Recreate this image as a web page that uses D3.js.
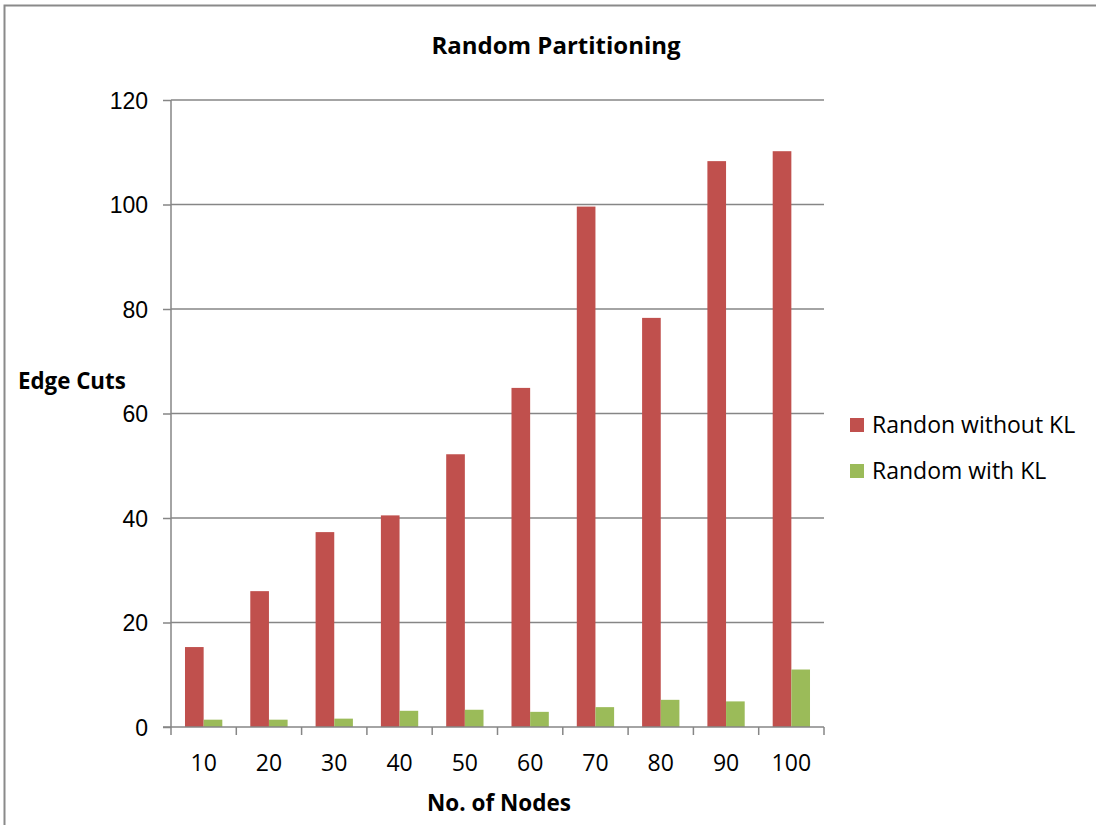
<!DOCTYPE html>
<html>
<head>
<meta charset="utf-8">
<script src="https://cdn.jsdelivr.net/npm/d3@7"></script>
<style>
  html, body { margin: 0; padding: 0; background: #fff; }
  svg { display: block; font-family: "Open Sans", "Liberation Sans", sans-serif; }
</style>
</head>
<body>
<svg id="chart" width="1096" height="825"></svg>
<script>
// Edge cuts per graph size, random partition before/after Kernighan–Lin
const nodes = ["10", "20", "30", "40", "50", "60", "70", "80", "90", "100"];
const withoutKL = [15.3, 26, 37.3, 40.5, 52.2, 64.9, 99.6, 78.3, 108.3, 110.2];
const withKL = [1.4, 1.4, 1.6, 3.1, 3.3, 2.9, 3.8, 5.2, 4.9, 11.0];
const seriesNames = ["Randon without KL", "Random with KL"];
const seriesColors = ["#C0504D", "#9BBB59"];
const yTicks = [0, 20, 40, 60, 80, 100, 120];

const svg = d3.select("#chart");
const plot = { left: 171, right: 824, top: 100, bottom: 727 };

// outer chart frame
svg.append("rect")
  .attr("x", 4.5).attr("y", 5.5)
  .attr("width", 1200).attr("height", 1000)
  .attr("fill", "none").attr("stroke", "#8a8a8a").attr("stroke-width", 2);

const x = d3.scaleBand().domain(nodes).range([plot.left, plot.right]);
const inner = d3.scaleBand().domain([0, 1])
  .range([0, x.bandwidth()]).paddingOuter(0.75).paddingInner(0);
const y = d3.scaleLinear().domain([0, 120]).range([plot.bottom, plot.top]);

// horizontal gridlines
svg.append("g")
  .selectAll("line")
  .data(yTicks.filter(d => d > 0))
  .join("line")
  .attr("x1", plot.left).attr("x2", plot.right)
  .attr("y1", d => y(d)).attr("y2", d => y(d))
  .attr("stroke", "#868686").attr("stroke-width", 1.5);

// bars
const rows = nodes.map((n, i) => ({ n, vals: [withoutKL[i], withKL[i]] }));
svg.append("g")
  .selectAll("g")
  .data(rows)
  .join("g")
  .attr("transform", d => `translate(${x(d.n)},0)`)
  .selectAll("rect")
  .data(d => d.vals.map((v, k) => ({ v, k })))
  .join("rect")
  .attr("x", d => inner(d.k))
  .attr("width", inner.bandwidth())
  .attr("y", d => y(d.v))
  .attr("height", d => y(0) - y(d.v))
  .attr("fill", d => seriesColors[d.k]);

// y axis
const yAxis = svg.append("g")
  .attr("transform", `translate(${plot.left},0)`)
  .call(d3.axisLeft(y).tickValues(yTicks).tickSize(8).tickPadding(15));
yAxis.select(".domain").attr("stroke", "#868686").attr("stroke-width", 1.5).attr("d", `M0,${plot.top}V${plot.bottom}`);
yAxis.selectAll(".tick line").attr("stroke", "#868686").attr("stroke-width", 1.5);
yAxis.selectAll(".tick text").attr("font-size", 23).attr("fill", "#000").attr("dy", "0.36em");

// x axis with ticks between categories
const xAxisG = svg.append("g").attr("transform", `translate(0,${plot.bottom})`);
xAxisG.append("line")
  .attr("x1", plot.left - 8).attr("x2", plot.right)
  .attr("stroke", "#868686").attr("stroke-width", 1.5);
const edges = nodes.map(n => x(n)).concat([x(nodes[nodes.length - 1]) + x.bandwidth()]);
xAxisG.selectAll("line.tk")
  .data(edges)
  .join("line").attr("class", "tk")
  .attr("x1", d => d).attr("x2", d => d)
  .attr("y1", 0).attr("y2", 8)
  .attr("stroke", "#868686").attr("stroke-width", 1.5);
xAxisG.selectAll("text")
  .data(nodes)
  .join("text")
  .attr("x", d => x(d) + x.bandwidth() / 2)
  .attr("y", 44)
  .attr("text-anchor", "middle")
  .attr("font-size", 23)
  .text(d => d);

// titles
svg.append("text")
  .attr("x", 556).attr("y", 54)
  .attr("text-anchor", "middle")
  .attr("font-size", 24).attr("font-weight", "bold")
  .text("Random Partitioning");
svg.append("text")
  .attr("x", 499).attr("y", 811)
  .attr("text-anchor", "middle")
  .attr("font-size", 22.5).attr("font-weight", "bold")
  .text("No. of Nodes");
svg.append("text")
  .attr("x", 18).attr("y", 389)
  .attr("font-size", 22.3).attr("font-weight", "bold")
  .text("Edge Cuts");

// legend
const legend = svg.append("g")
  .selectAll("g")
  .data(seriesNames)
  .join("g")
  .attr("transform", (d, i) => `translate(850,${418 + i * 46})`);
legend.append("rect")
  .attr("width", 14).attr("height", 14)
  .attr("fill", (d, i) => seriesColors[i]);
legend.append("text")
  .attr("x", 22).attr("y", 15)
  .attr("font-size", 23)
  .text(d => d);
</script>
</body>
</html>
